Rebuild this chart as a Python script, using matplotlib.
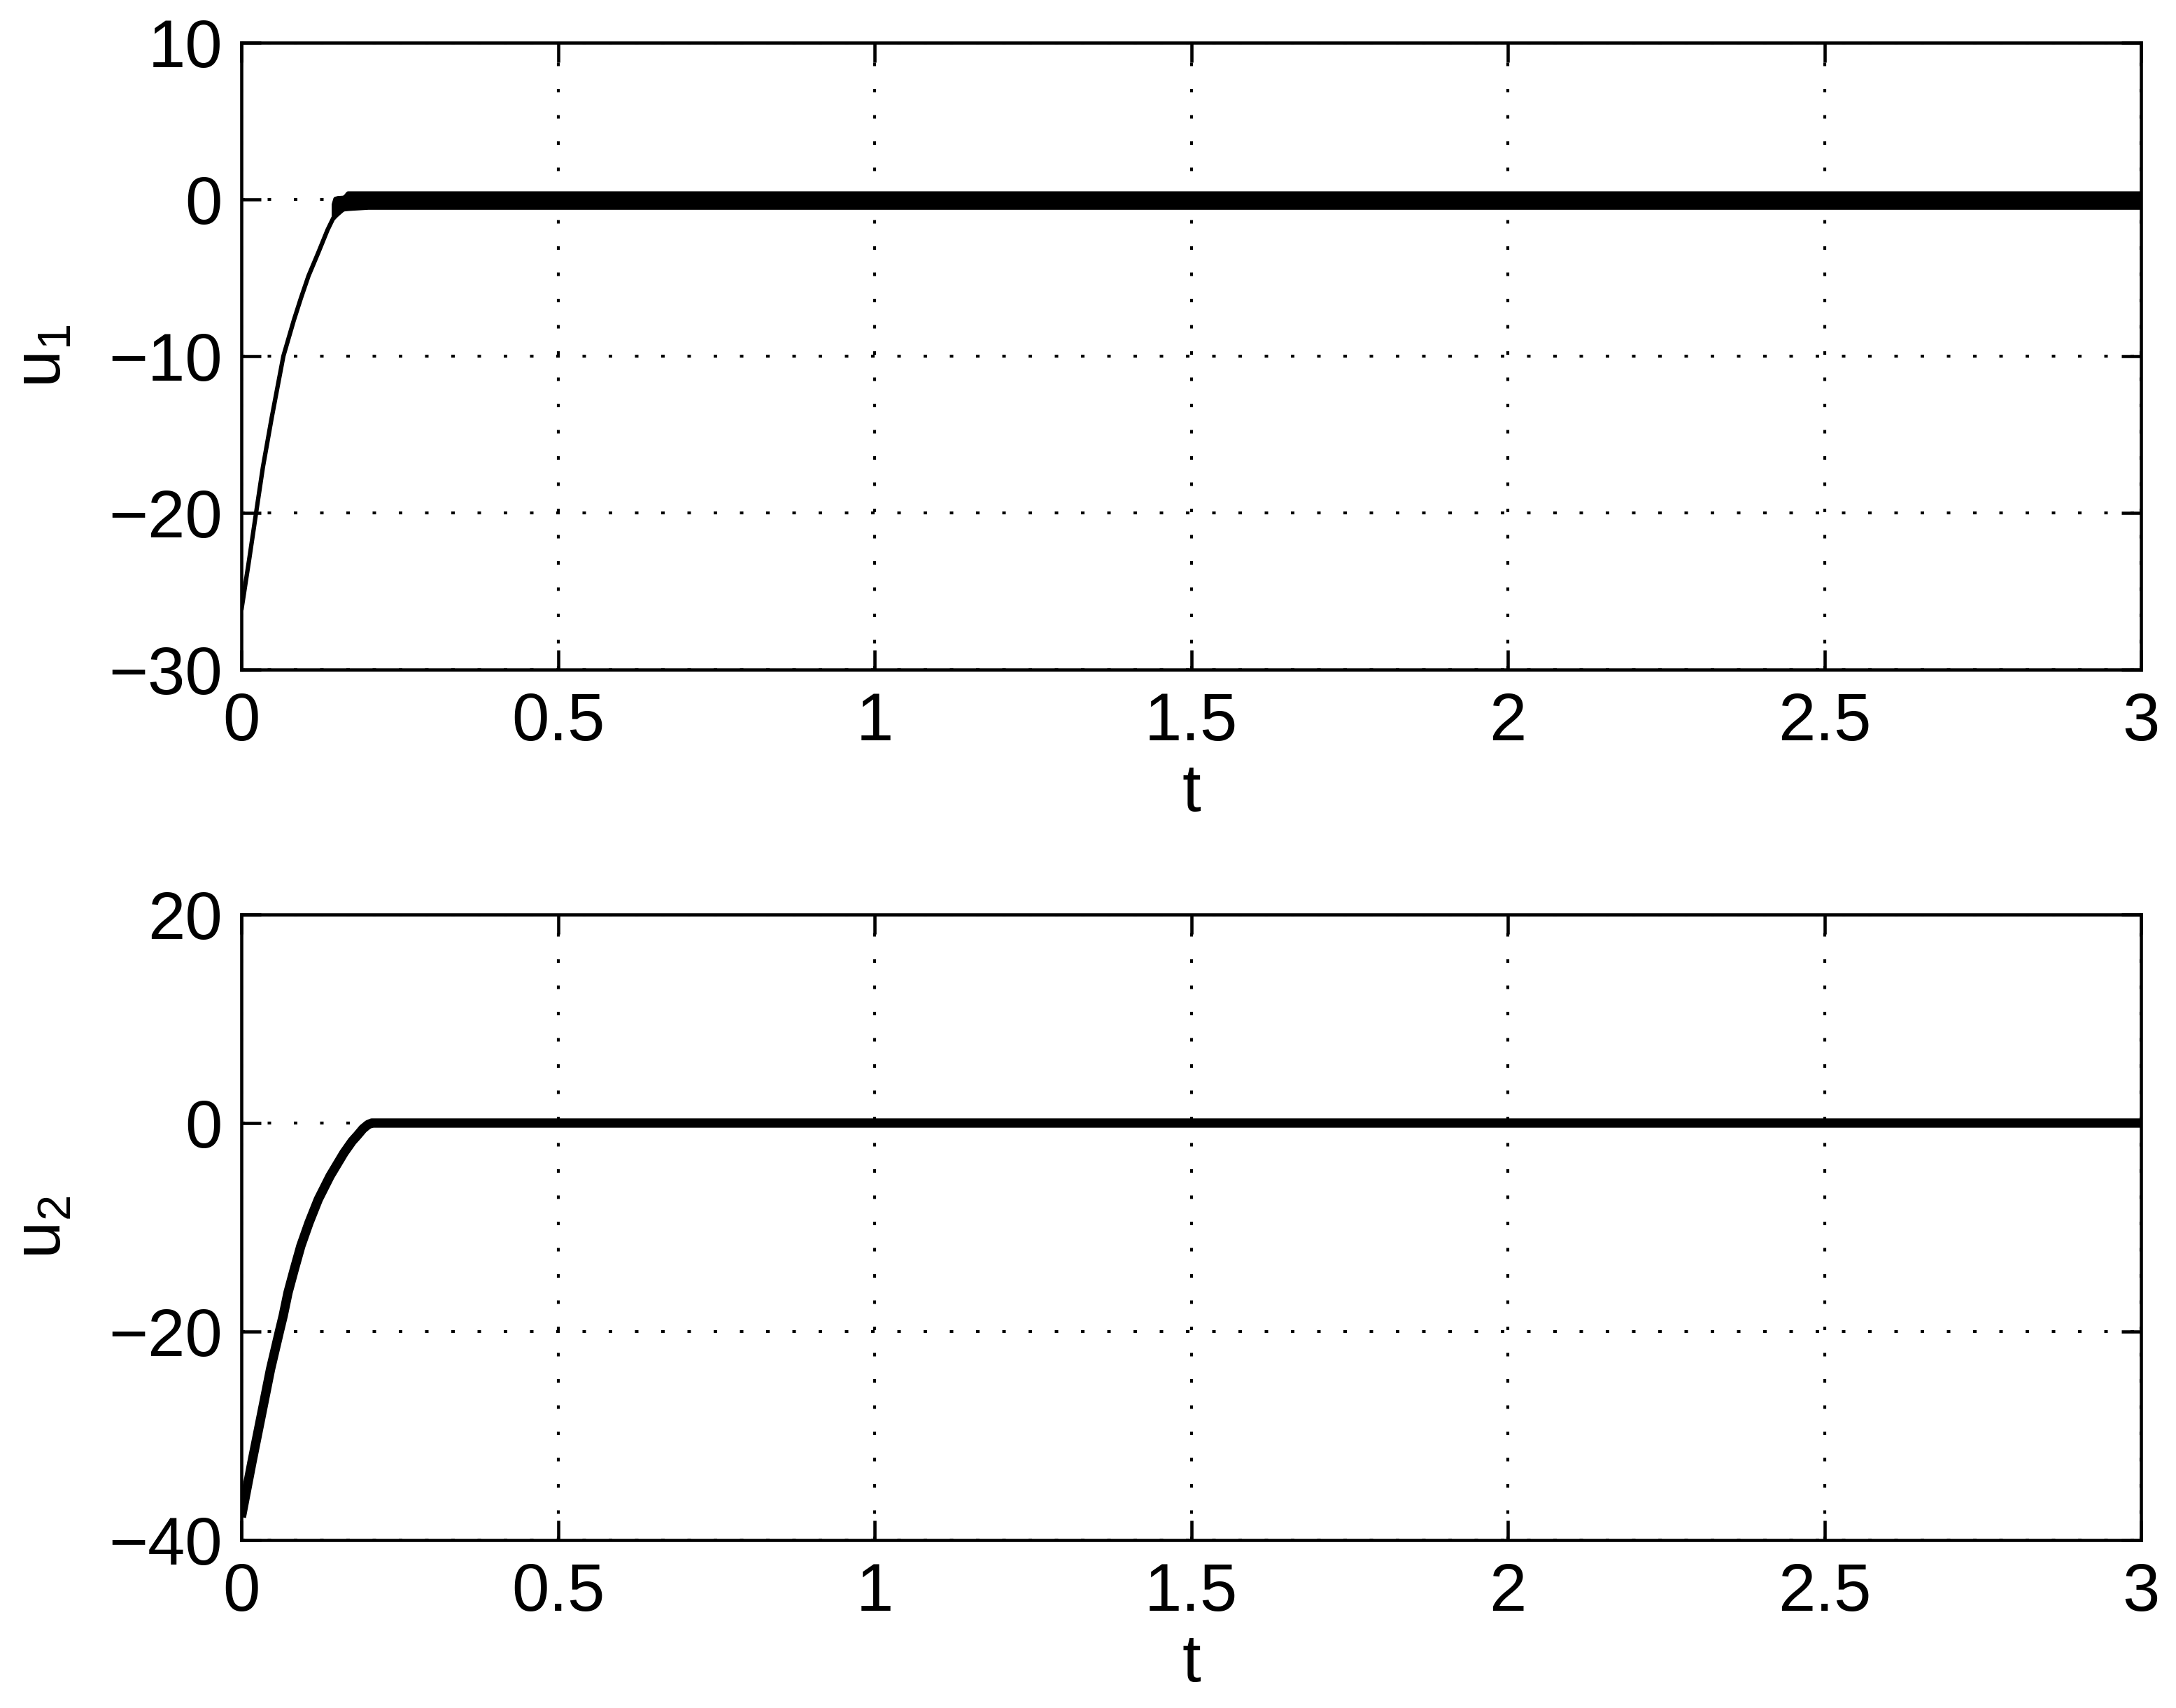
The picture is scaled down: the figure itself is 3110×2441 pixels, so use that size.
import matplotlib
matplotlib.use("Agg")
import matplotlib.pyplot as plt
from matplotlib.ticker import FixedLocator, FixedFormatter

plt.rcParams['font.family'] = ['Liberation Sans', 'DejaVu Sans']
plt.rcParams['mathtext.fontset'] = 'custom'
plt.rcParams['mathtext.rm'] = 'Liberation Sans'
plt.rcParams['mathtext.it'] = 'Liberation Sans'
plt.rcParams['mathtext.default'] = 'regular'

# ---- data ----
# u1: smooth transient, then chattering band around zero
u1_t = [0.0, 0.0122, 0.0232, 0.034, 0.048, 0.0663, 0.0829, 0.094, 0.106, 0.1215, 0.136, 0.1455]
u1_v = [-26.2, -23.0, -20.0, -17.08, -13.9, -10.0, -7.7, -6.3, -4.88, -3.39, -1.95, -1.16]
chat_t = [0.1455, 0.148, 0.152, 0.160, 0.163, 0.168, 0.175, 0.20, 0.50, 1.0, 1.5, 2.0, 2.5, 3.0]
chat_lo = [-1.16, -1.05, -0.9, -0.62, -0.6, -0.58, -0.56, -0.5, -0.5, -0.5, -0.5, -0.5, -0.5, -0.5]
chat_hi = [-0.3, 0.05, 0.1, 0.12, 0.15, 0.4, 0.4, 0.4, 0.4, 0.4, 0.4, 0.4, 0.4, 0.4]

# u2: smooth transient reaching zero at t~0.206, then zero
u2_t = [0.0, 0.0166, 0.0313, 0.046, 0.060, 0.066, 0.0737, 0.0836, 0.0939, 0.1068, 0.1215,
        0.140, 0.162, 0.175, 0.183, 0.192, 0.200, 0.206, 3.0]
u2_v = [-37.8, -32.55, -28.09, -23.62, -20.0, -18.49, -16.25, -14.02, -11.79, -9.56, -7.32,
        -5.09, -2.86, -1.74, -1.2, -0.55, -0.15, 0.0, 0.0]

x_ticks = [0, 0.5, 1, 1.5, 2, 2.5, 3]
x_ticklabels = ['0', '0.5', '1', '1.5', '2', '2.5', '3']
y1_ticks = [-30, -20, -10, 0, 10]
y2_ticks = [-40, -20, 0, 20]

W, H = 3110, 2441
DPI = 300
fig = plt.figure(figsize=(W / DPI, H / DPI), dpi=DPI)

left = 345 / W
width = (3060 - 345) / W
ax1 = fig.add_axes([left, 1 - 957 / H, width, (957 - 61) / H])
ax2 = fig.add_axes([left, 1 - 2201 / H, width, (2201 - 1307) / H])

FS = 23
grid_style = dict(color='black', linewidth=1.0, linestyle=(0, (1.2, 7.8)))

def style(ax, yticks, ylim, ylabel):
    ax.set_xlim(0, 3)
    ax.set_ylim(*ylim)
    ax.xaxis.set_major_locator(FixedLocator(x_ticks))
    ax.xaxis.set_major_formatter(FixedFormatter(x_ticklabels))
    ax.yaxis.set_major_locator(FixedLocator(yticks))
    ax.tick_params(direction='in', length=6.7, width=1.1, top=True, right=True,
                   labelsize=FS, colors='black')
    ax.tick_params(axis='x', pad=7.5)
    ax.tick_params(axis='y', pad=6.5)
    for s in ax.spines.values():
        s.set_linewidth(1.1)
        s.set_color('black')
    ax.grid(True, **grid_style)
    ax.set_axisbelow(True)
    ax.set_xlabel('t', fontsize=FS)
    h_px = ax.get_position().height * H
    ax.xaxis.set_label_coords(0.5, -202 / h_px)
    ax.xaxis.label.set_verticalalignment('baseline')
    ax.set_ylabel(ylabel, fontsize=FS)
    ax.yaxis.set_label_coords((87 - 345) / (3060 - 345), 0.5)
    ax.yaxis.label.set_verticalalignment('baseline')

# top subplot
ax1.plot(u1_t, u1_v, color='black', linewidth=1.5, zorder=3, solid_capstyle='butt')
ax1.fill_between(chat_t, chat_lo, chat_hi, facecolor='black', edgecolor='black',
                 linewidth=1.5, zorder=3)
style(ax1, y1_ticks, (-30, 10), '$u_1$')

# bottom subplot
ax2.plot(u2_t, u2_v, color='black', linewidth=3.2, zorder=3, solid_capstyle='butt')
style(ax2, y2_ticks, (-40, 20), '$u_2$')

fig.savefig('out.png', dpi=DPI, facecolor='white')
